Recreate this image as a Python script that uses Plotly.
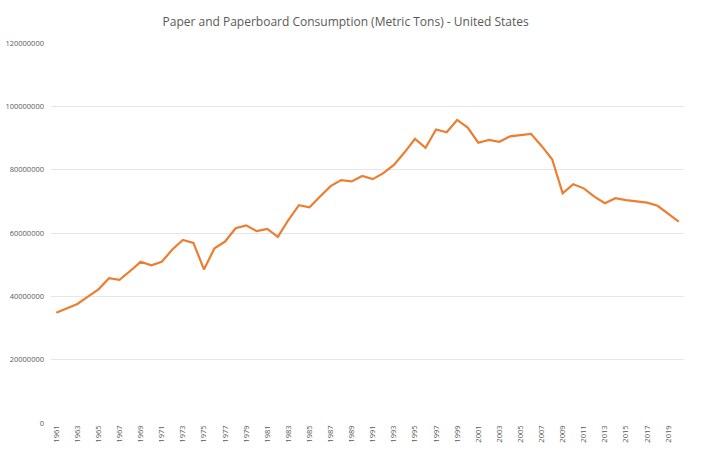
import plotly.graph_objects as go

years = list(range(1961, 2021))
consumption = [
    34.8, 36.2, 37.6, 39.9, 42.2, 45.7, 45.2, 48.0, 50.9, 49.8,
    50.9, 54.8, 57.8, 56.9, 48.5, 55.2, 57.3, 61.5, 62.4, 60.6,
    61.3, 58.8, 64.1, 68.8, 68.1, 71.5, 74.8, 76.7, 76.3, 78.0,
    77.0, 78.9, 81.5, 85.4, 89.7, 86.9, 92.7, 91.8, 95.7, 93.3,
    88.5, 89.4, 88.8, 90.5, 90.9, 91.3, 87.5, 83.3, 72.5, 75.4,
    74.1, 71.5, 69.4, 71.0, 70.4, 70.1, 69.6, 68.6, 66.2, 63.6,
]
consumption = [v * 1e6 for v in consumption]
x_tick_years = list(range(1961, 2020, 2))
y_ticks = [0, 20000000, 40000000, 60000000, 80000000, 100000000, 120000000]

fig = go.Figure()
fig.add_trace(go.Scatter(
    x=years, y=consumption, mode="lines",
    line=dict(color="#ED7D31", width=2.2),
))

fig.update_layout(
    width=717, height=461,
    margin=dict(l=51, r=33, t=43, b=38),
    paper_bgcolor="white", plot_bgcolor="white",
    showlegend=False,
    font=dict(family="Open Sans", color="#595959"),
    title=dict(
        text="Paper and Paperboard Consumption (Metric Tons) - United States",
        x=0.482, xanchor="center", y=0.952, yanchor="middle",
        font=dict(size=12, color="#595959", family="Open Sans"),
    ),
)
fig.update_xaxes(
    range=[1960.5, 2020.5], automargin=False,
    tickmode="array", tickvals=x_tick_years,
    ticktext=[str(y) for y in x_tick_years],
    tickangle=-90, tickfont=dict(size=7.5, color="#595959"),
    showgrid=False, zeroline=False, showline=False, ticks="",
)
fig.update_yaxes(
    range=[0, 120000000], automargin=False,
    tickmode="array", tickvals=y_ticks,
    ticktext=[str(v) for v in y_ticks],
    tickfont=dict(size=7.5, color="#595959"),
    showgrid=True, gridcolor="#e6e6e6", gridwidth=1,
    zeroline=False, showline=False, ticks="", ticklabelstandoff=6,
)

fig.write_html("out.html")
